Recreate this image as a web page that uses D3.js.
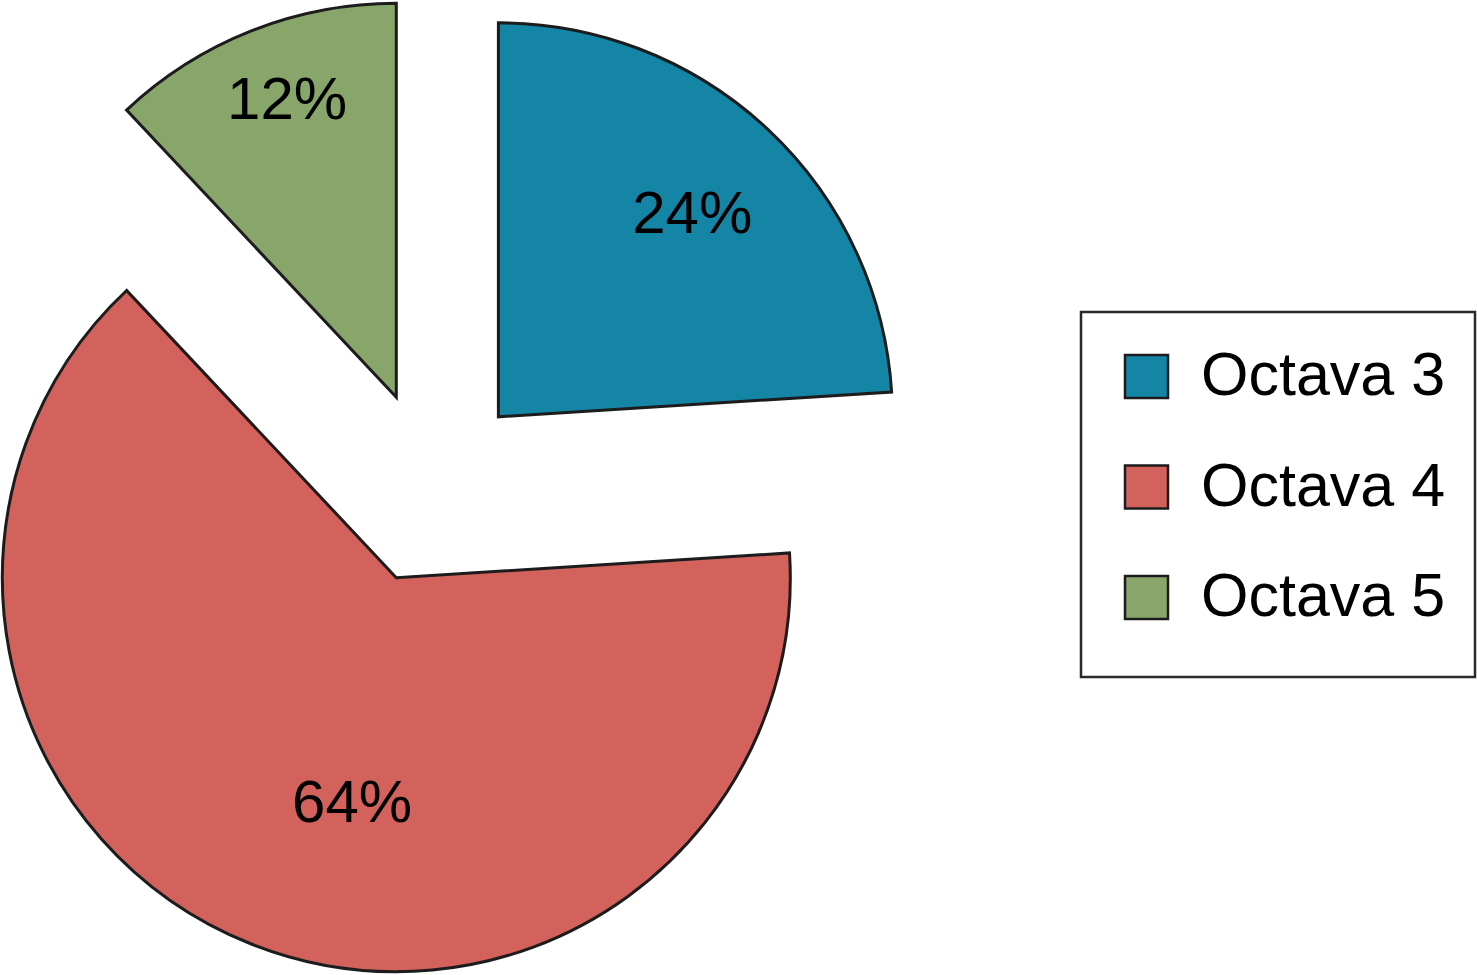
<!DOCTYPE html>
<html>
<head>
<meta charset="utf-8">
<script src="https://cdn.jsdelivr.net/npm/d3@7"></script>
<style>
  body { margin: 0; background: #fff; }
  text { font-family: "Liberation Sans", Arial, Helvetica, sans-serif; fill: #000; }
</style>
</head>
<body>
<div id="chart"></div>
<script>
// data
var categories = ["Octava 3", "Octava 4", "Octava 5"];
var shares = [24, 64, 12];
var colors = ["#1585a6", "#d3625c", "#88a66a"];

// label placement per slice (radius fraction, angle shift in degrees)
var labelAt = [
    {frac: 0.716, shift: 0.2},
    {frac: 0.577, shift: -10.4},
    {frac: 0.81, shift: 1.6}
];

var width = 1477, height = 975;
var cx = 432, cy = 487.5, radius = 394, explode = 97;

var svg = d3.select("#chart").append("svg")
    .attr("width", width)
    .attr("height", height);

var data = categories.map(function (c, i) {
    return {name: c, value: shares[i], color: colors[i], label: labelAt[i]};
});

var pie = d3.pie()
    .sort(null)
    .value(function (d) { return d.value; });

var arc = d3.arc()
    .innerRadius(0)
    .outerRadius(radius);

var slices = svg.append("g")
    .attr("transform", "translate(" + cx + "," + cy + ")")
    .selectAll("g.slice")
    .data(pie(data))
    .enter().append("g")
    .attr("class", "slice")
    .attr("transform", function (d) {
        var mid = (d.startAngle + d.endAngle) / 2;
        return "translate(" + (explode * Math.sin(mid)) + "," + (-explode * Math.cos(mid)) + ")";
    });

slices.append("path")
    .attr("d", arc)
    .style("fill", function (d) { return d.data.color; })
    .style("stroke", "#1c1c1c")
    .style("stroke-width", 3)
    .style("stroke-linejoin", "miter");

slices.append("text")
    .attr("x", function (d) {
        var a = (d.startAngle + d.endAngle) / 2 + d.data.label.shift * Math.PI / 180;
        return radius * d.data.label.frac * Math.sin(a);
    })
    .attr("y", function (d) {
        var a = (d.startAngle + d.endAngle) / 2 + d.data.label.shift * Math.PI / 180;
        return -radius * d.data.label.frac * Math.cos(a);
    })
    .attr("dy", "0.36em")
    .attr("text-anchor", "middle")
    .style("font-size", "60px")
    .text(function (d) { return d.data.value + "%"; });

// legend
var legend = svg.append("g")
    .attr("transform", "translate(1081,312)");

legend.append("rect")
    .attr("width", 394)
    .attr("height", 365)
    .style("fill", "#fff")
    .style("stroke", "#2a2a2a")
    .style("stroke-width", 2.5);

var item = legend.selectAll("g.item")
    .data(data)
    .enter().append("g")
    .attr("class", "item")
    .attr("transform", function (d, i) { return "translate(44," + (43 + i * 110.5) + ")"; });

item.append("rect")
    .attr("width", 43)
    .attr("height", 43)
    .style("fill", function (d) { return d.color; })
    .style("stroke", "#1c1c1c")
    .style("stroke-width", 2.5);

item.append("text")
    .attr("x", 76)
    .attr("y", 40)
    .style("font-size", "61px")
    .text(function (d) { return d.name; });
</script>
</body>
</html>
